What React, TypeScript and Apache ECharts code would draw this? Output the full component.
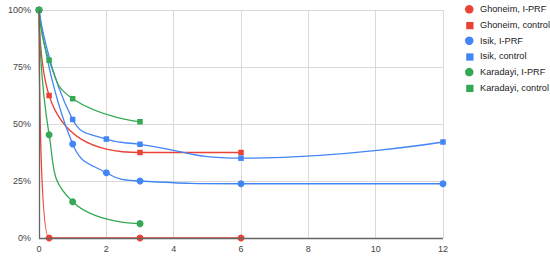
import React, { useEffect, useRef } from "react";
import * as echarts from "echarts";

const seriesNames = [
  "Ghoneim, I-PRF",
  "Ghoneim, control",
  "Isik, I-PRF",
  "Isik, control",
  "Karadayi, I-PRF",
  "Karadayi, control",
];
const colors = ["#ea4335", "#ea4335", "#4285f4", "#4285f4", "#34a853", "#34a853"];
const isCircle = [true, false, true, false, true, false];

const ghoneimIprf: [number, number][] = [[0, 100], [0.3, 0], [3, 0], [6, 0]];
const ghoneimControl: [number, number][] = [[0, 100], [0.3, 62.5], [3, 37.5], [6, 37.5]];
const isikIprf: [number, number][] = [[0, 100], [1, 41.2], [2, 28.6], [3, 25], [6, 23.8], [12, 23.8]];
const isikControl: [number, number][] = [[0, 100], [1, 52], [2, 43.4], [3, 41.1], [6, 35], [12, 42.1]];
const karadayiIprf: [number, number][] = [[0, 100], [0.3, 45.3], [1, 15.9], [3, 6.3]];
const karadayiControl: [number, number][] = [[0, 100], [0.3, 78], [1, 61.1], [3, 51]];

const allData = [ghoneimIprf, ghoneimControl, isikIprf, isikControl, karadayiIprf, karadayiControl];

const xTicks = { min: 0, max: 12, interval: 2 };
const yTicks = { min: 0, max: 100, interval: 25 };

const squareIcon = "path://M0,0L0,0M1,1L7,1L7,7L1,7Z";

export default function App() {
  const ref = useRef<HTMLDivElement>(null);
  useEffect(() => {
    if (!ref.current) return;
    const chart = echarts.init(ref.current, undefined, { renderer: "svg" });
    const font = "'Liberation Sans', Arial, sans-serif";
    chart.setOption({
      animation: false,
      textStyle: { fontFamily: font },
      grid: { left: 39, right: 107, top: 10, bottom: 20, containLabel: false },
      legend: {
        orient: "vertical",
        left: 465,
        top: 3.3,
        padding: 0,
        itemWidth: 8.5,
        itemHeight: 8.5,
        itemGap: 3.7,
        textStyle: { fontSize: 9.2, lineHeight: 12, color: "#222", fontFamily: font, padding: [0, 0, 0, 1.5] },
        data: seriesNames.map((n, i) => ({ name: n, icon: isCircle[i] ? "circle" : squareIcon })),
      },
      xAxis: {
        type: "value",
        min: xTicks.min,
        max: xTicks.max,
        interval: xTicks.interval,
        axisLine: { show: false },
        axisTick: { show: false },
        axisLabel: { fontSize: 9, color: "#444", margin: 6 },
        splitLine: { show: true, lineStyle: { color: "#d9d9d9", width: 1 } },
      },
      yAxis: {
        type: "value",
        min: yTicks.min,
        max: yTicks.max,
        interval: yTicks.interval,
        axisLine: { show: false },
        axisTick: { show: false },
        axisLabel: { fontSize: 9, color: "#444", margin: 8, formatter: "{value}%" },
        splitLine: { show: true, lineStyle: { color: "#d9d9d9", width: 1 } },
      },
      series: [
        ...seriesNames.map((n, i) => ({
          name: n,
          type: "line",
          data: allData[i],
          smooth: 0.5,
          color: colors[i],
          symbol: isCircle[i] ? "circle" : "rect",
          symbolSize: isCircle[i] ? 7 : 5.5,
          showSymbol: true,
          lineStyle: { width: 1.3, color: colors[i] },
          itemStyle: { color: colors[i] },
          z: 3,
        })),
        {
          name: "baseline",
          type: "line",
          data: [],
          silent: true,
          markLine: {
            silent: true,
            symbol: "none",
            label: { show: false },
            lineStyle: { color: "#666", width: 1.3, type: "solid" },
            data: [{ xAxis: 0 }, { yAxis: 0 }],
          },
          z: 2,
        },
      ],
    });
    return () => chart.dispose();
  }, []);
  return <div ref={ref} style={{ width: 550, height: 258, position: "absolute", left: 0, top: 0 }} />;
}
